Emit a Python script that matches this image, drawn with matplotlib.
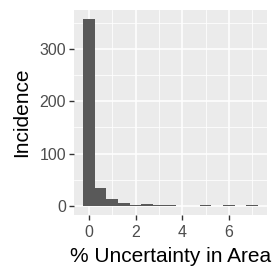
import matplotlib
matplotlib.use("Agg")
import matplotlib.pyplot as plt
from matplotlib.ticker import FixedLocator

# Histogram data (bin width 0.5, centred on bin_centers)
bin_centers = [0.0, 0.5, 1.0, 1.5, 2.0, 2.5, 3.0, 3.5, 4.0, 4.5, 5.0, 5.5, 6.0, 6.5, 7.0]
counts = [357, 33, 13, 6, 1, 3, 1, 1, 0, 0, 1, 0, 1, 0, 1]
bin_width = 0.5
x_ticks = [0, 2, 4, 6]
y_ticks = [0, 100, 200, 300]
x_label = "% Uncertainty in Area"
y_label = "Incidence"

plt.rcParams['font.family'] = ['Liberation Sans', 'DejaVu Sans']

fig = plt.figure(figsize=(2.77, 2.77), dpi=100)
W = H = 277
left, right, top, bottom = 74, 267, 10, 215
ax = fig.add_axes([left / W, 1 - bottom / H, (right - left) / W, (bottom - top) / H])

ax.set_facecolor('#EBEBEB')
for s in ax.spines.values():
    s.set_visible(False)

ax.bar(bin_centers, counts, width=bin_width, color='#595959', linewidth=0, zorder=3)

ax.set_xlim(-0.64, 7.63)
ax.set_ylim(-17.8, 375)

ax.xaxis.set_major_locator(FixedLocator(x_ticks))
ax.yaxis.set_major_locator(FixedLocator(y_ticks))
ax.xaxis.set_minor_locator(FixedLocator([1, 3, 5, 7]))
ax.yaxis.set_minor_locator(FixedLocator([50, 150, 250, 350]))

ax.grid(which='major', color='white', linewidth=1.1, zorder=0)
ax.grid(which='minor', color='white', linewidth=0.55, zorder=0)
ax.set_axisbelow(True)

ax.tick_params(which='major', length=3.6, width=1.0, color='#333333',
               labelsize=11.5, labelcolor='#4D4D4D')
ax.tick_params(axis='x', which='major', pad=3.5)
ax.tick_params(axis='y', which='major', pad=2)
ax.tick_params(which='minor', length=0)

ax.set_xlabel(x_label, fontsize=15, color='black', labelpad=5)
ax.set_ylabel(y_label, fontsize=15, color='black', labelpad=6)

fig.savefig('out.png', dpi=100, facecolor='white')
